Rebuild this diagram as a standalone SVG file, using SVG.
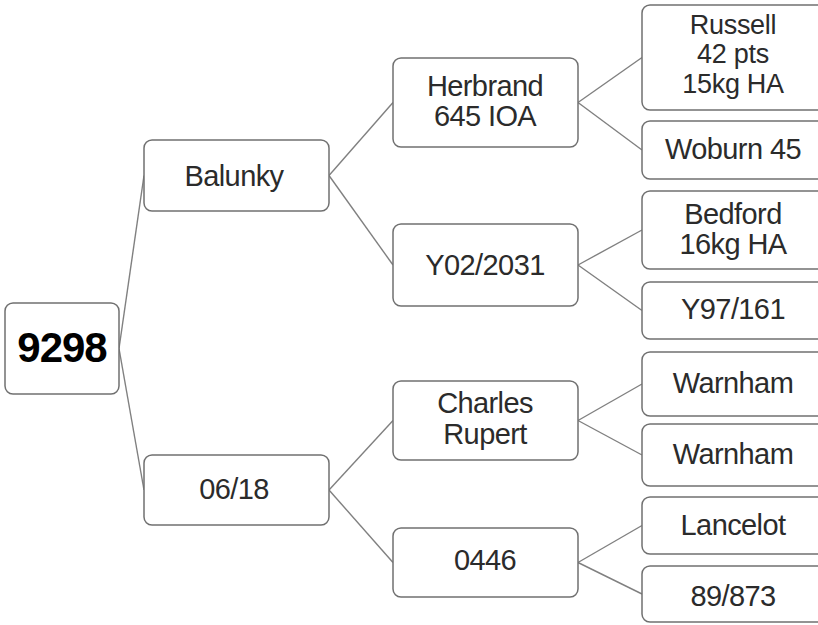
<svg xmlns="http://www.w3.org/2000/svg" width="818" height="625" viewBox="0 0 818 625">
<style>
.box{fill:#ffffff;stroke:#707070;stroke-width:1.5}
.t{font-family:"Liberation Sans",Arial,sans-serif;font-size:29px;letter-spacing:-0.6px;fill:#2b2b2b;text-anchor:middle}
.s{font-size:27px;letter-spacing:-0.3px}
.b{font-weight:bold;font-size:42px;letter-spacing:-1px;fill:#000000}
.c line{stroke:#808080;stroke-width:1.4}
</style>
<rect width="818" height="625" fill="#ffffff"/>
<g class="c" id="connectors">
<line x1="119" y1="348.5" x2="144" y2="175.5"/>
<line x1="119" y1="348.5" x2="144" y2="490"/>
<line x1="329" y1="175.5" x2="393" y2="102.5"/>
<line x1="329" y1="175.5" x2="393" y2="265"/>
<line x1="329" y1="490" x2="393" y2="420.5"/>
<line x1="329" y1="490" x2="393" y2="562.5"/>
<line x1="578" y1="102.5" x2="642" y2="57.5"/>
<line x1="578" y1="102.5" x2="642" y2="150"/>
<line x1="578" y1="265" x2="642" y2="230"/>
<line x1="578" y1="265" x2="642" y2="310.5"/>
<line x1="578" y1="420.5" x2="642" y2="384"/>
<line x1="578" y1="420.5" x2="642" y2="455"/>
<line x1="578" y1="562.5" x2="642" y2="525.5"/>
<line x1="578" y1="562.5" x2="642" y2="594"/>
</g>
<g id="n9298"><rect class="box" x="5" y="303" width="114" height="91" rx="8"/><text class="t b" x="62" y="362">9298</text></g>
<g id="balunky"><rect class="box" x="144" y="140" width="185" height="71" rx="8"/><text class="t" x="234" y="186">Balunky</text></g>
<g id="n0618"><rect class="box" x="144" y="455" width="185" height="70" rx="8"/><text class="t" x="234" y="499">06/18</text></g>
<g id="herbrand"><rect class="box" x="393" y="58" width="185" height="89" rx="8"/><text class="t" x="485" y="96">Herbrand</text><text class="t" x="485" y="126">645 IOA</text></g>
<g id="y022031"><rect class="box" x="393" y="224" width="185" height="82" rx="8"/><text class="t" x="485" y="275">Y02/2031</text></g>
<g id="charles"><rect class="box" x="393" y="381" width="185" height="79" rx="8"/><text class="t" x="485" y="413">Charles</text><text class="t" x="485" y="444">Rupert</text></g>
<g id="n0446"><rect class="box" x="393" y="528" width="185" height="69" rx="8"/><text class="t" x="485" y="570">0446</text></g>
<g id="russell"><rect class="box" x="642" y="5" width="185" height="105" rx="8"/><text class="t s" x="733" y="34">Russell</text><text class="t s" x="733" y="63">42 pts</text><text class="t s" x="733" y="93">15kg HA</text></g>
<g id="woburn"><rect class="box" x="642" y="121" width="185" height="58" rx="8"/><text class="t" x="733" y="159">Woburn 45</text></g>
<g id="bedford"><rect class="box" x="642" y="191" width="185" height="78" rx="8"/><text class="t" x="733" y="224">Bedford</text><text class="t" x="733" y="254">16kg HA</text></g>
<g id="y97161"><rect class="box" x="642" y="282" width="185" height="57" rx="8"/><text class="t" x="733" y="319">Y97/161</text></g>
<g id="warnham1"><rect class="box" x="642" y="352" width="185" height="64" rx="8"/><text class="t" x="733" y="393">Warnham</text></g>
<g id="warnham2"><rect class="box" x="642" y="424" width="185" height="62" rx="8"/><text class="t" x="733" y="464">Warnham</text></g>
<g id="lancelot"><rect class="box" x="642" y="497" width="185" height="57" rx="8"/><text class="t" x="733" y="535">Lancelot</text></g>
<g id="n89873"><rect class="box" x="642" y="566" width="185" height="56" rx="8"/><text class="t" x="733" y="606">89/873</text></g>
</svg>
